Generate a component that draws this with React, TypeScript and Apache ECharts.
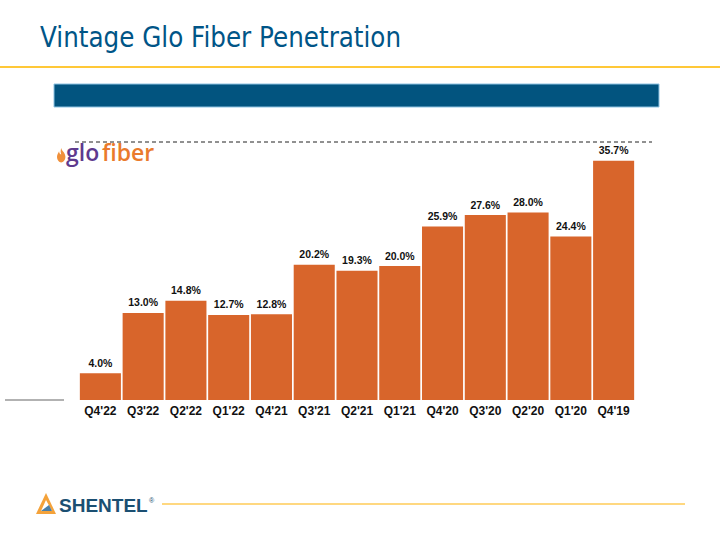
import React, { useEffect, useRef } from "react";
import * as echarts from "echarts";

const categories = ["Q4'22", "Q3'22", "Q2'22", "Q1'22", "Q4'21", "Q3'21", "Q2'21", "Q1'21", "Q4'20", "Q3'20", "Q2'20", "Q1'20", "Q4'19"];
const penetration = [4.0, 13.0, 14.8, 12.7, 12.8, 20.2, 19.3, 20.0, 25.9, 27.6, 28.0, 24.4, 35.7];
const titleText = "Vintage Glo Fiber Penetration";

export default function App() {
  const ref = useRef<HTMLDivElement>(null);
  useEffect(() => {
    if (!ref.current) return;
    const chart = echarts.init(ref.current, undefined, { renderer: "svg" });
    echarts.graphic.registerShape(
      "flame",
      echarts.graphic.extendPath(
        "M6 0 C7 4 12 6 12 11 C12 15 9 18 6 18 C3 18 0 15 0 11 C0 8 2 6 3 4 C3 7 5 8 6 8 C5 5 5 3 6 0 Z",
        {}
      )
    );
    chart.setOption({
      animation: false,
      backgroundColor: "#ffffff",
      grid: { left: 79, right: 85, top: 132, bottom: 140, containLabel: false },
      xAxis: {
        type: "category",
        data: categories,
        axisLine: { show: false },
        axisTick: { show: false },
        axisLabel: {
          color: "#111",
          fontFamily: "'Liberation Sans', Arial",
          fontWeight: "bold",
          fontSize: 12,
          margin: 5,
        },
      },
      yAxis: { type: "value", min: 0, max: 40, show: false, splitLine: { show: false } },
      series: [
        {
          type: "bar",
          data: penetration,
          barCategoryGap: "4%",
          itemStyle: { color: "#D8652B" },
          label: {
            show: true,
            position: "top",
            distance: 5,
            formatter: (p: any) => p.value.toFixed(1) + "%",
            color: "#111",
            fontFamily: "'Liberation Sans', Arial",
            fontSize: 10.5,
            fontWeight: "bold",
          },
        },
      ],
      graphic: [
        {
          type: "text",
          x: 40,
          y: 22,
          scaleX: 0.85,
          originX: 0,
          style: {
            text: titleText,
            fill: "#005587",
            font: "29px 'DejaVu Sans', sans-serif",
            verticalAlign: "top",
          },
        },
        { type: "rect", shape: { x: 0, y: 66, width: 720, height: 2 }, style: { fill: "#FFC838" } },
        {
          type: "rect",
          shape: { x: 54, y: 84, width: 605, height: 23 },
          style: { fill: "#02547F", stroke: "#8EC3E3", lineWidth: 1 },
        },
        {
          type: "line",
          shape: { x1: 75, y1: 142, x2: 652, y2: 142 },
          style: { stroke: "#222", lineWidth: 1, lineDash: [4, 3] },
        },
        { type: "line", shape: { x1: 5, y1: 400, x2: 64, y2: 400 }, style: { stroke: "#999", lineWidth: 1.5 } },
        { type: "flame", x: 57, y: 148, scaleX: 0.7, scaleY: 0.8, style: { fill: "#F0903A" } },
        {
          type: "text",
          left: 66,
          top: 140,
          style: { text: "glo", fill: "#5E3A8E", font: "600 23px 'Open Sans', Arial" },
        },
        {
          type: "text",
          left: 102,
          top: 140,
          style: { text: "fiber", fill: "#EA7A2C", font: "600 23px 'Open Sans', Arial" },
        },
        {
          type: "polygon",
          shape: { points: [[46, 493], [36, 514], [56, 514]] },
          style: { fill: "#F4A23A" },
        },
        {
          type: "polygon",
          shape: { points: [[46, 500], [41, 511], [52, 511]] },
          style: { fill: "#ffffff" },
        },
        {
          type: "polygon",
          shape: { points: [[41, 511], [52, 511], [49, 505]] },
          style: { fill: "#4A7FA8" },
        },
        {
          type: "text",
          left: 59,
          top: 496,
          style: { text: "SHENTEL", fill: "#1B4F72", font: "bold 19px 'Liberation Sans', Arial" },
        },
        { type: "text", left: 149, top: 497, style: { text: "®", fill: "#1B4F72", font: "7px 'Liberation Sans'" } },
        { type: "rect", shape: { x: 162, y: 503, width: 523, height: 2 }, style: { fill: "#FFD880" } },
      ],
    });
    return () => chart.dispose();
  }, []);
  return <div ref={ref} style={{ width: 720, height: 540, position: "absolute", left: 0, top: 0 }} />;
}
